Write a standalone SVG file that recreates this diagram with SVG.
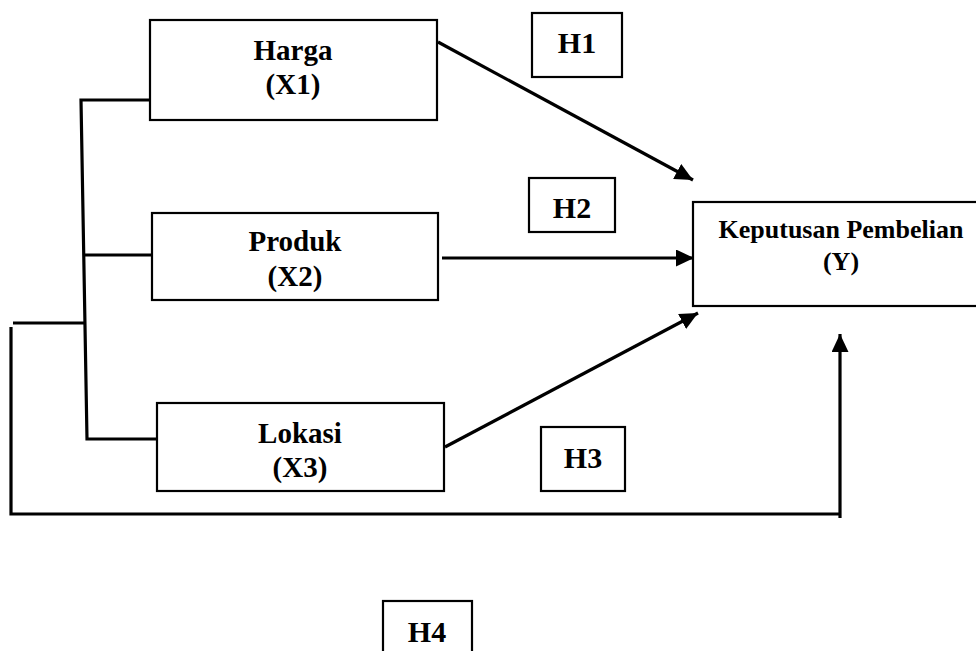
<svg xmlns="http://www.w3.org/2000/svg" width="976" height="651" viewBox="0 0 976 651">
<defs>
<style>
.box{fill:#fff;stroke:#000;stroke-width:2.2}
.t{font-family:"Liberation Serif","Times New Roman",serif;font-weight:bold;fill:#000;text-anchor:middle}
.n{font-size:29px}
.h{font-size:30px}
.y{font-size:26px}
.c{fill:none;stroke:#000;stroke-width:3.2}
</style>
<marker id="ah" markerUnits="userSpaceOnUse" markerWidth="19" markerHeight="17" refX="18" refY="8.5" orient="auto">
<path d="M0,0 L18,8.5 L0,17 z" fill="#000"/>
</marker>
</defs>
<rect width="976" height="651" fill="#fff"/>
<g id="connectors">
<path class="c" d="M154,100 H81 L87,439 H157"/>
<path class="c" d="M83,255 H152"/>
<path class="c" d="M13,323 H84"/>
<path class="c" d="M11,327 V514 H840"/>
<line class="c" x1="840" y1="518" x2="840" y2="334" marker-end="url(#ah)"/>
<line class="c" x1="438" y1="42" x2="693" y2="180" marker-end="url(#ah)"/>
<line class="c" x1="442" y1="258" x2="694" y2="258" marker-end="url(#ah)"/>
<line class="c" x1="445" y1="447" x2="698" y2="313" marker-end="url(#ah)"/>
</g>
<g id="harga">
<rect class="box" x="150" y="20" width="287" height="100"/>
<text class="t n" x="293" y="60">Harga</text>
<text class="t n" x="293" y="94">(X1)</text>
</g>
<g id="produk">
<rect class="box" x="152" y="213" width="286" height="87"/>
<text class="t n" x="295" y="251">Produk</text>
<text class="t n" x="295" y="286">(X2)</text>
</g>
<g id="lokasi">
<rect class="box" x="157" y="403" width="287" height="88"/>
<text class="t n" x="300" y="443">Lokasi</text>
<text class="t n" x="300" y="477">(X3)</text>
</g>
<g id="keputusan">
<rect class="box" x="693" y="202" width="295" height="104"/>
<text class="t y" x="841" y="238">Keputusan Pembelian</text>
<text class="t y" x="841" y="270">(Y)</text>
</g>
<g id="h1">
<rect class="box" x="532" y="13" width="90" height="64"/>
<text class="t h" x="577" y="53">H1</text>
</g>
<g id="h2">
<rect class="box" x="529" y="178" width="86" height="54"/>
<text class="t h" x="572" y="218">H2</text>
</g>
<g id="h3">
<rect class="box" x="541" y="427" width="84" height="64"/>
<text class="t h" x="583" y="468">H3</text>
</g>
<g id="h4">
<rect class="box" x="383" y="601" width="89" height="60"/>
<text class="t h" x="427" y="642">H4</text>
</g>
</svg>
